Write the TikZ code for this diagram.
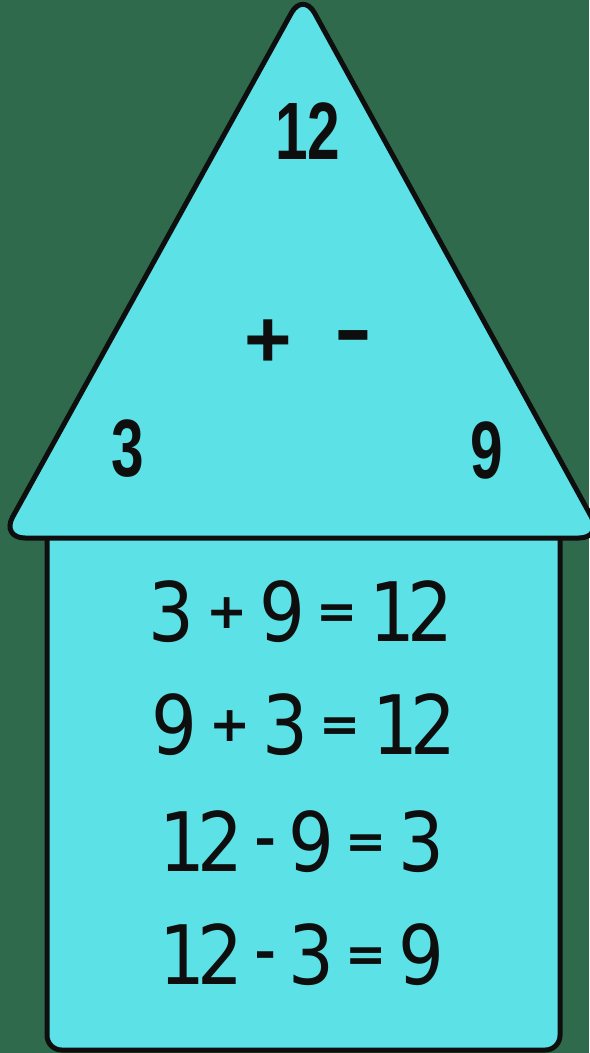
\documentclass[tikz,border=0pt]{standalone}
\usepackage{fontspec}
\setmainfont{DejaVu Sans}
\newfontfamily\numfont{Liberation Sans}
\definecolor{board}{HTML}{2F6A4C}
\definecolor{cyanfill}{HTML}{5CE1E6}
\definecolor{ink}{HTML}{0E0E0E}
\tikzset{
  house/.style={fill=cyanfill, draw=ink, line width=3.75pt, line join=round},
  bignum/.style={inner sep=0pt, anchor=center, text=ink,
    font=\fontsize{61pt}{61pt}\selectfont\numfont\bfseries},
  opsign/.style={inner sep=0pt, anchor=center, text=ink,
    font=\fontsize{61pt}{61pt}\selectfont\numfont\bfseries},
  eqline/.style={inner sep=0pt, anchor=center, text=ink,
    font=\fontsize{61.5pt}{61.5pt}\selectfont}
}
\newcommand{\dg}[1]{\scalebox{0.88}[1]{#1}}
\newcommand{\gp}{\hspace{0.14em}}
\newcommand{\twelve}{\dg{1\kern-0.11em 2}}
\newcommand{\pl}{\raisebox{0.16em}{\scalebox{0.6}{\bfseries +}}}
\newcommand{\eqs}{\raisebox{0.16em}{\scalebox{0.6}{\bfseries =}}}
\newcommand{\mi}{\raisebox{0.09em}{\scalebox{0.75}[1]{-}}}
\newcommand{\bigtext}[1]{\scalebox{0.72}[1]{#1}}
\begin{document}
\begin{tikzpicture}[x=0.75pt,y=-0.75pt]
\fill[board] (0,0) rectangle (589,1053);
\useasboundingbox (0,0) rectangle (589,1053);
% body of the house
\draw[house, rounded corners=11pt] (47,520) rectangle (560,1050);
% roof
\draw[house, rounded corners=18pt] (303,-8) -- (603,538) -- (1,538) -- cycle;
% roof labels
\node[bignum] (top) at (308,131) {\bigtext{12}};
\node[bignum] (left) at (128,449) {\bigtext{3}};
\node[bignum] (right) at (487,450) {\bigtext{9}};
\node[opsign] (plus) at (268,344) {+};
\node[opsign] (minus) at (353,344) {\scalebox{1.4}[1]{-}};
% equations
\node[eqline] (eq1) at (301,612) {\dg{3}\gp\pl\gp\dg{9}\gp\eqs\gp\twelve};
\node[eqline] (eq2) at (304,725) {\dg{9}\gp\pl\gp\dg{3}\gp\eqs\gp\twelve};
\node[eqline] (eq3) at (302,842) {\twelve\gp\mi\gp\dg{9}\gp\eqs\gp\dg{3}};
\node[eqline] (eq4) at (302,955) {\twelve\gp\mi\gp\dg{3}\gp\eqs\gp\dg{9}};
\end{tikzpicture}
\end{document}
